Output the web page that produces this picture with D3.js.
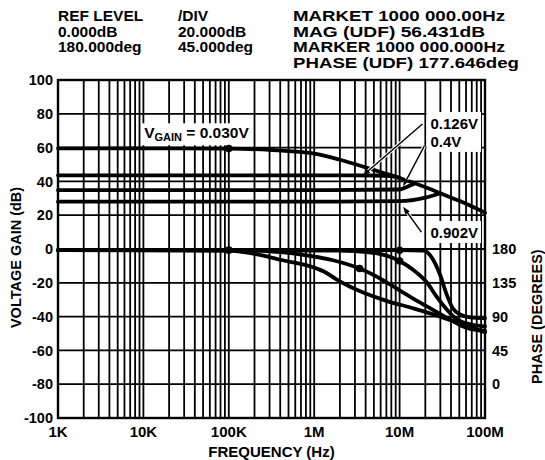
<!DOCTYPE html>
<html>
<head>
<meta charset="utf-8">
<script src="https://cdn.jsdelivr.net/npm/d3@7"></script>
<style>
  body { margin: 0; background: #fff; }
  text { font-family: "Liberation Sans", Arial, Helvetica, sans-serif; font-weight: bold; fill: #000; }
</style>
</head>
<body>
<svg id="chart" width="545" height="460"></svg>
<script>

// header block of the network analyser
var headerRows = [
	["REF LEVEL", "/DIV", "MARKET 1000 000.00Hz"],
	["0.000dB", "20.000dB", "MAG (UDF) 56.431dB"],
	["180.000deg", "45.000deg", "MARKER 1000 000.000Hz"],
	["", "", "PHASE (UDF) 177.646deg"]
];

var freqTicks = [1e3, 1e4, 1e5, 1e6, 1e7, 1e8];
var freqLabels = ["1K", "10K", "100K", "1M", "10M", "100M"];
var gainTicks = [100, 80, 60, 40, 20, 0, -20, -40, -60, -80, -100];
var phaseTicks = [180, 135, 90, 45, 0];

// gain curves [Hz, dB]
var gain030 = [[1e3, 59.6], [1e4, 59.6], [1e5, 59.4], [3e5, 58.6], [1e6, 56.4], [2e6, 52.8], [4e6, 48.3], [6.5e6, 45], [1e7, 42], [2.4e7, 35], [3e7, 33], [5e7, 28.5], [1e8, 21.5]];
var gain126 = [[1e3, 43.6], [1e6, 43.6], [5e6, 43.5], [8e6, 43.2], [1e7, 42]];
var gain04 = [[1e3, 34.8], [1e6, 34.8], [1e7, 35.2], [1.25e7, 37], [1.5e7, 38.8]];
var gain0902 = [[1e3, 28], [1e6, 28], [1e7, 28.3], [2e7, 30.4], [3e7, 33]];

// phase curves [Hz, degrees]
var phaseA = [[1e3, 178.5], [1e7, 178.4], [1.9e7, 178], [2.46e7, 166], [2.97e7, 146], [3.6e7, 118], [4.2e7, 101], [5.1e7, 93], [6.7e7, 89], [1e8, 88]];
var phaseB = [[1e3, 178.5], [2e6, 178], [4.2e6, 176], [1e7, 164], [1.45e7, 152], [2.1e7, 135], [2.7e7, 117], [3.6e7, 99], [4.6e7, 87], [7.2e7, 79], [1e8, 77]];
var phaseC = [[1e3, 178.5], [1e5, 178.3], [3e5, 177], [6.8e5, 173], [1.66e6, 165], [3.4e6, 154], [6.3e6, 139], [1e7, 125], [1.6e7, 111], [2.46e7, 99], [3.9e7, 86], [6.1e7, 75], [1e8, 71]];
var phaseD = [[1e3, 178.5], [1e5, 178], [1.8e5, 174.5], [4.3e5, 165], [1.07e6, 154], [1.3e6, 150], [1.8e6, 140], [2.6e6, 130], [3.4e6, 124], [7e6, 111], [1.45e7, 101], [3e7, 90], [6e7, 78], [1e8, 69]];

// marker dots: [Hz, value, axis]
var markers = [[1e5, 59.4, "gain"], [1e5, 178.5, "phase"], [1e7, 178.4, "phase"], [1e7, 164, "phase"], [3.4e6, 154, "phase"]];

// callouts: label, label position [Hz, dB], arrow from [Hz, dB] to [Hz, dB]
var callouts = [
	{ text: "0.126V", at: [2.3e7, 71], from: [1.85e7, 74], to: [3.7e6, 43.4] },
	{ text: "0.4V", at: [2.3e7, 60.4], from: [1.95e7, 61], to: [1.1e7, 37.2] },
	{ text: "0.902V", at: [2.3e7, 6.5], from: [1.8e7, 10], to: [1.1e7, 25] }
];

function renderChart(element) {

	var svg = d3.select(element);

	var margin = { top: 80, bottom: 42, left: 58, right: 60 };
	var width = +svg.attr("width");
	var height = +svg.attr("height");

	var xScale = d3.scaleLog()
		.domain([1e3, 1e8])
		.range([margin.left, width - margin.right]);

	var yScale = d3.scaleLinear()
		.domain([-100, 100])
		.range([height - margin.bottom, margin.top]);

	// 180 deg sits on 0 dB, 45 deg per 20 dB division
	var phaseScale = d3.scaleLinear()
		.domain([-45, 405])
		.range([height - margin.bottom, margin.top]);

	drawHeader(svg);
	drawGrid(svg, xScale, yScale);
	drawAxes(svg, xScale, yScale, phaseScale, width, height);
	drawCurves(svg, xScale, yScale, phaseScale);
	drawCallouts(svg, xScale, yScale);

}

function drawHeader(svg) {

	var colX = [58, 178, 293];
	var rightWidths = [212, 192, 212, 226]; // the marker column is printed wide

	headerRows.forEach(function(row, r) {
		row.forEach(function(t, c) {
			if (!t) return;
			var txt = svg.append("text")
				.attr("x", colX[c])
				.attr("y", 21 + r * 15.5)
				.attr("font-size", 15.5)
				.text(t);
			if (c == 2) {
				txt.attr("textLength", rightWidths[r]).attr("lengthAdjust", "spacingAndGlyphs");
			}
		});
	});

}

function drawGrid(svg, xScale, yScale) {

	var vLines = [];
	for (var e = 3; e < 8; e++) {
		for (var k = 1; k < 10; k++) vLines.push(k * Math.pow(10, e));
	}
	vLines.push(1e8);

	var grid = svg.append("g").attr("stroke", "#000").attr("stroke-width", 1.8);

	grid.selectAll(".v")
		.data(vLines)
		.enter()
		.append("line")
		.attr("x1", d => xScale(d))
		.attr("x2", d => xScale(d))
		.attr("y1", yScale(100))
		.attr("y2", yScale(-100));

	grid.selectAll(".h")
		.data(gainTicks)
		.enter()
		.append("line")
		.attr("x1", xScale(1e3))
		.attr("x2", xScale(1e8))
		.attr("y1", d => yScale(d))
		.attr("y2", d => yScale(d));

	svg.append("rect")
		.attr("x", xScale(1e3))
		.attr("y", yScale(100))
		.attr("width", xScale(1e8) - xScale(1e3))
		.attr("height", yScale(-100) - yScale(100))
		.attr("fill", "none")
		.attr("stroke", "#000")
		.attr("stroke-width", 2.4);

}

function drawAxes(svg, xScale, yScale, phaseScale, width, height) {

	svg.selectAll(".ylab")
		.data(gainTicks)
		.enter()
		.append("text")
		.attr("x", xScale(1e3) - 5)
		.attr("y", d => yScale(d))
		.attr("dy", "0.36em")
		.attr("text-anchor", "end")
		.attr("font-size", 14.5)
		.text(d => d);

	svg.selectAll(".plab")
		.data(phaseTicks)
		.enter()
		.append("text")
		.attr("x", xScale(1e8) + 7)
		.attr("y", d => phaseScale(d))
		.attr("dy", "0.36em")
		.attr("font-size", 14.5)
		.text(d => d);

	svg.selectAll(".xlab")
		.data(freqTicks)
		.enter()
		.append("text")
		.attr("x", d => xScale(d))
		.attr("y", yScale(-100) + 19)
		.attr("text-anchor", "middle")
		.attr("font-size", 15)
		.text((d, i) => freqLabels[i]);

	svg.append("text")
		.attr("x", (xScale(1e3) + xScale(1e8)) / 2)
		.attr("y", height - 3)
		.attr("text-anchor", "middle")
		.attr("font-size", 15)
		.text("FREQUENCY (Hz)");

	svg.append("text")
		.attr("transform", "translate(21," + yScale(-5) + ") rotate(-90)")
		.attr("text-anchor", "middle")
		.attr("font-size", 14.5)
		.text("VOLTAGE GAIN (dB)");

	svg.append("text")
		.attr("transform", "translate(542," + phaseScale(90) + ") rotate(-90)")
		.attr("text-anchor", "middle")
		.attr("font-size", 14.5)
		.text("PHASE (DEGREES)");

}

function drawCurves(svg, xScale, yScale, phaseScale) {

	var gainLine = d3.line()
		.x(d => xScale(d[0]))
		.y(d => yScale(d[1]))
		.curve(d3.curveMonotoneX);

	var phaseLine = d3.line()
		.x(d => xScale(d[0]))
		.y(d => phaseScale(d[1]))
		.curve(d3.curveMonotoneX);

	// white box behind the label covers the grid
	var vg = svg.append("text")
		.attr("id", "vgain")
		.attr("x", xScale(1.02e4))
		.attr("y", yScale(65.5))
		.attr("font-size", 15.5);
	vg.append("tspan").text("V");
	vg.append("tspan").attr("font-size", 11).attr("dy", 3).text("GAIN");
	vg.append("tspan").attr("dy", -3).text(" = 0.030V");

	var box = vg.node().getBBox();
	svg.insert("rect", "#vgain")
		.attr("x", box.x - 3)
		.attr("y", box.y - 1)
		.attr("width", box.width + 6)
		.attr("height", box.height + 3)
		.attr("fill", "#fff");

	var curves = svg.append("g")
		.attr("fill", "none")
		.attr("stroke", "#000")
		.attr("stroke-width", 3.8)
		.attr("stroke-linecap", "round");

	[gain030, gain126, gain04, gain0902].forEach(function(s) {
		curves.append("path").attr("d", gainLine(s));
	});

	[phaseA, phaseB, phaseC, phaseD].forEach(function(s) {
		curves.append("path").attr("d", phaseLine(s));
	});

	svg.selectAll(".marker")
		.data(markers)
		.enter()
		.append("circle")
		.attr("cx", d => xScale(d[0]))
		.attr("cy", d => d[2] == "gain" ? yScale(d[1]) : phaseScale(d[1]))
		.attr("r", 3.8)
		.attr("fill", "#000");

}

function drawCallouts(svg, xScale, yScale) {

	var g = svg.append("g");

	var labels = g.selectAll("text")
		.data(callouts)
		.enter()
		.append("text")
		.attr("x", d => xScale(d.at[0]))
		.attr("y", d => yScale(d.at[1]))
		.attr("font-size", 15)
		.text(d => d.text);

	// one box for 0.126V + 0.4V, one for 0.902V
	var boxes = [[0, 1], [2]];
	boxes.forEach(function(idx) {
		var x0 = Infinity, y0 = Infinity, x1 = -Infinity, y1 = -Infinity;
		idx.forEach(function(i) {
			var b = labels.nodes()[i].getBBox();
			x0 = Math.min(x0, b.x); y0 = Math.min(y0, b.y);
			x1 = Math.max(x1, b.x + b.width); y1 = Math.max(y1, b.y + b.height);
		});
		g.insert("rect", "text")
			.attr("x", x0 - 4)
			.attr("y", y0 - 3)
			.attr("width", Math.min(x1 + 3, xScale(1e8) - 1) - x0 + 4)
			.attr("height", y1 - y0 + 5)
			.attr("fill", "#fff");
	});

	callouts.forEach(function(c) {

		var x1 = xScale(c.from[0]), y1 = yScale(c.from[1]);
		var x2 = xScale(c.to[0]), y2 = yScale(c.to[1]);
		var a = Math.atan2(y2 - y1, x2 - x1);
		var len = 8, spread = 0.35;

		g.append("line")
			.attr("x1", x1).attr("y1", y1)
			.attr("x2", x2 - Math.cos(a) * 4).attr("y2", y2 - Math.sin(a) * 4)
			.attr("stroke", "#fff")
			.attr("stroke-width", 3.5);

		g.append("line")
			.attr("x1", x1).attr("y1", y1)
			.attr("x2", x2 - Math.cos(a) * 4).attr("y2", y2 - Math.sin(a) * 4)
			.attr("stroke", "#000")
			.attr("stroke-width", 1.4);

		g.append("path")
			.attr("d", "M" + x2 + "," + y2 +
				"L" + (x2 - len * Math.cos(a - spread)) + "," + (y2 - len * Math.sin(a - spread)) +
				"L" + (x2 - len * Math.cos(a + spread)) + "," + (y2 - len * Math.sin(a + spread)) + "Z")
			.attr("fill", "#000");

	});

}

renderChart("#chart");

</script>
</body>
</html>
